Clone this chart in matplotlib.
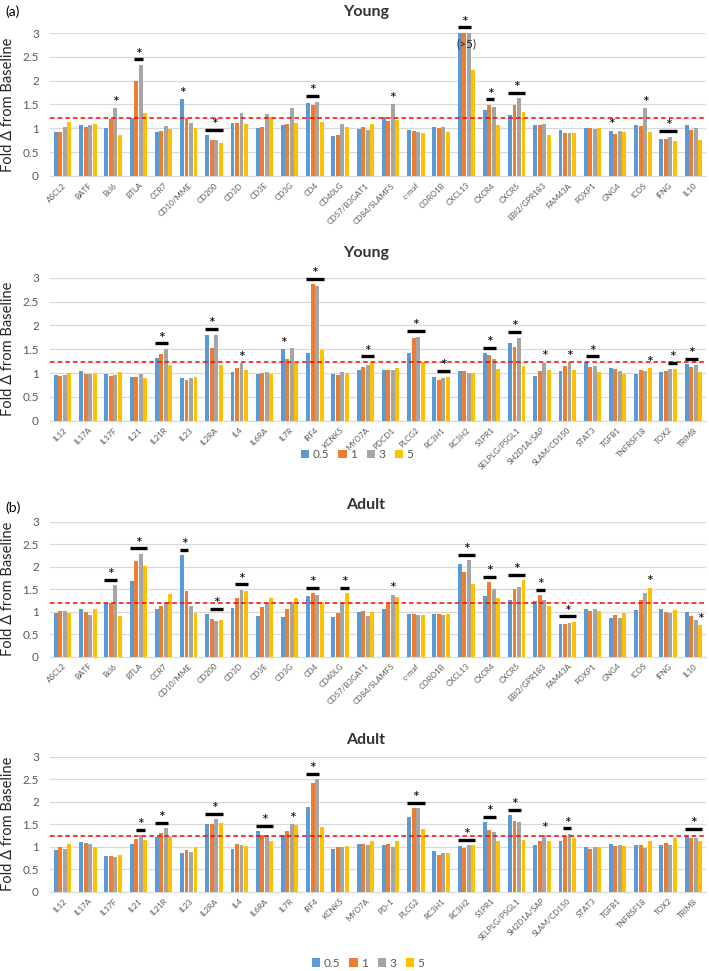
import matplotlib
matplotlib.use('Agg')
import matplotlib.pyplot as plt
from matplotlib.patches import Patch

plt.rcParams['font.family'] = ['Lato', 'DejaVu Sans']

series_labels = ['0.5', '1', '3', '5']
colors = ['#5B9BD5', '#ED7D31', '#A5A5A5', '#FFC000']

genes_a = ['ASCL2', 'BATF', 'Bcl6', 'BTLA', 'CCR7', 'CD10/MME', 'CD200', 'CD3D', 'CD3E', 'CD3G',
           'CD4', 'CD40LG', 'CD57/B3GAT1', 'CD84/SLAMF5', 'c-maf', 'CORO1B', 'CXCL13', 'CXCR4',
           'CXCR5', 'EBI2/GPR183', 'FAM43A', 'FOXP1', 'GNG4', 'ICOS', 'IFNG', 'IL10']
genes_b_young = ['IL12', 'IL17A', 'IL17F', 'IL21', 'IL21R', 'IL23', 'IL2RA', 'IL4', 'IL6RA', 'IL7R',
                 'IRF4', 'KCNK5', 'MYO7A', 'PDCD1', 'PLCG2', 'RC3H1', 'RC3H2', 'S1PR1',
                 'SELPLG/PSGL1', 'SH2D1A/SAP', 'SLAM/CD150', 'STAT3', 'TGFB1', 'TNFRSF18', 'TOX2', 'TRIM8']
genes_b_adult = ['IL12', 'IL17A', 'IL17F', 'IL21', 'IL21R', 'IL23', 'IL2RA', 'IL4', 'IL6RA', 'IL7R',
                 'IRF4', 'KCNK5', 'MYO7A', 'PD-1', 'PLCG2', 'RC3H1', 'RC3H2', 'S1PR1',
                 'SELPLG/PSGL1', 'SH2D1A/SAP', 'SLAM/CD150', 'STAT3', 'TGFB1', 'TNFRSF18', 'TOX2', 'TRIM8']

# Young, genes A
young_a_05 = [0.92, 1.06, 1.01, 1.22, 0.92, 1.61, 0.85, 1.11, 1.01, 1.07, 1.54, 0.83, 0.99, 1.23, 0.97, 1.02, 3.0, 1.38, 1.27, 1.06, 0.96, 1.01, 0.95, 1.06, 0.78, 1.08]
young_a_1 = [0.92, 1.03, 1.19, 1.99, 0.95, 1.22, 0.76, 1.12, 1.02, 1.09, 1.48, 0.85, 1.02, 1.15, 0.95, 1.01, 3.0, 1.49, 1.48, 1.07, 0.91, 1.01, 0.88, 1.04, 0.78, 0.97]
young_a_3 = [1.03, 1.07, 1.42, 2.33, 1.04, 1.11, 0.75, 1.33, 1.30, 1.43, 1.56, 1.09, 0.97, 1.51, 0.92, 1.02, 3.0, 1.45, 1.63, 1.09, 0.91, 0.98, 0.95, 1.42, 0.82, 1.01]
young_a_5 = [1.14, 1.09, 0.86, 1.32, 0.98, 1.00, 0.69, 1.09, 1.23, 1.11, 1.14, 1.03, 1.09, 1.18, 0.91, 0.92, 2.23, 1.07, 1.35, 0.86, 0.90, 1.01, 0.92, 0.92, 0.74, 0.76]

# Young, genes B
young_b_05 = [0.96, 1.05, 0.97, 0.91, 1.31, 0.89, 1.80, 1.02, 0.97, 1.50, 1.41, 0.99, 1.06, 1.06, 1.42, 0.92, 1.04, 1.41, 1.63, 0.94, 1.05, 1.23, 1.10, 0.98, 1.02, 1.18]
young_b_1 = [0.94, 0.99, 0.93, 0.91, 1.39, 0.86, 1.52, 1.11, 1.00, 1.30, 2.86, 0.95, 1.13, 1.06, 1.73, 0.86, 1.04, 1.38, 1.55, 1.05, 1.15, 1.13, 1.08, 1.07, 1.04, 1.13]
young_b_3 = [0.96, 0.99, 0.95, 0.99, 1.50, 0.89, 1.79, 1.20, 1.03, 1.52, 2.83, 1.03, 1.17, 1.06, 1.76, 0.89, 1.01, 1.30, 1.74, 1.22, 1.23, 1.15, 1.04, 1.04, 1.08, 1.16]
young_b_5 = [1.00, 0.99, 1.03, 0.89, 1.16, 0.91, 1.16, 1.07, 0.99, 1.22, 1.49, 1.01, 1.23, 1.11, 1.23, 0.91, 1.01, 1.09, 1.15, 1.07, 1.07, 1.02, 0.99, 1.10, 1.09, 1.02]

# Adult, genes A
adult_a_05 = [0.97, 1.06, 1.19, 1.69, 1.05, 2.26, 0.95, 1.09, 0.90, 0.88, 1.35, 0.88, 1.00, 1.07, 0.95, 0.95, 2.05, 1.35, 1.26, 1.23, 0.73, 1.05, 0.87, 1.04, 1.06, 1.00]
adult_a_1 = [1.02, 1.00, 1.19, 2.13, 1.13, 1.45, 0.84, 1.31, 1.10, 1.05, 1.41, 0.97, 1.02, 1.18, 0.95, 0.95, 1.88, 1.66, 1.50, 1.37, 0.73, 1.02, 0.92, 1.26, 1.00, 0.90]
adult_a_3 = [1.02, 0.93, 1.59, 2.29, 1.21, 1.13, 0.80, 1.49, 1.19, 1.21, 1.38, 1.21, 0.90, 1.38, 0.93, 0.92, 2.15, 1.50, 1.55, 1.27, 0.75, 1.06, 0.87, 1.41, 0.97, 0.81]
adult_a_5 = [0.97, 1.06, 0.90, 2.01, 1.40, 0.97, 0.81, 1.45, 1.31, 1.31, 1.21, 1.41, 1.00, 1.33, 0.92, 0.95, 1.62, 1.31, 1.70, 1.13, 0.78, 1.02, 0.97, 1.53, 1.04, 0.70]

# Adult, genes B
adult_b_05 = [0.93, 1.10, 0.79, 1.05, 1.22, 0.86, 1.50, 0.96, 1.34, 1.25, 1.89, 0.96, 1.05, 1.03, 1.67, 0.90, 1.01, 1.55, 1.70, 1.04, 1.13, 0.99, 1.07, 1.03, 1.04, 1.27]
adult_b_1 = [0.99, 1.08, 0.79, 1.17, 1.30, 0.93, 1.50, 1.07, 1.27, 1.36, 2.41, 0.99, 1.07, 1.05, 1.86, 0.81, 0.98, 1.37, 1.58, 1.12, 1.23, 0.96, 1.01, 1.03, 1.08, 1.19]
adult_b_3 = [0.96, 1.05, 0.77, 1.25, 1.41, 0.89, 1.61, 1.04, 1.25, 1.50, 2.50, 0.99, 1.03, 0.99, 1.86, 0.86, 1.03, 1.32, 1.56, 1.27, 1.29, 0.99, 1.03, 0.98, 1.04, 1.19]
adult_b_5 = [1.07, 0.99, 0.81, 1.15, 1.22, 0.99, 1.53, 1.02, 1.13, 1.48, 1.43, 1.01, 1.12, 1.12, 1.39, 0.87, 1.03, 1.12, 1.15, 1.13, 1.20, 0.99, 1.01, 1.12, 1.19, 1.13]

# Threshold (red dashed line) per panel
thresholds = [1.22, 1.23, 1.19, 1.23]

# Significance marks: (gene index, first series, last series, has bar)
young_a_sig = [(2, 2, 2, False), (3, 1, 2, True), (5, 0, 0, False), (6, 0, 3, True), (10, 0, 2, True),
               (13, 2, 2, False), (16, 0, 2, True), (17, 0.7, 1.7, True), (18, 0, 3, True),
               (22, 0, 0, False), (23, 2, 2, False), (24, 0, 3, True)]
young_b_sig = [(4, 0, 2, True), (6, 0, 2, True), (7, 2, 2, False), (9, 0, 0, False), (10, 0, 3, True),
               (12, 1, 3, True), (14, 0, 3, True), (15, 1, 3, True), (17, 0, 2, True), (18, 0, 2, True),
               (19, 2, 2, False), (20, 2, 2, False), (21, 0.5, 2.5, True), (23, 3, 3, False),
               (24, 2, 3, True), (25, 0, 2, True)]
adult_a_sig = [(2, 0, 2, True), (3, 0, 3, True), (5, 0, 1, True), (6, 1, 3, True), (7, 1, 3, True),
               (10, 0, 2, True), (11, 2, 3, True), (13, 2, 2, False), (16, 0, 3, True), (17, 0, 2, True),
               (18, 0, 3, True), (19, 0.7, 1.7, True), (20, 0, 3, True), (23, 3, 3, False), (25, 3, 3, False)]
adult_b_sig = [(3, 1.5, 2.5, True), (4, 0, 2, True), (6, 0, 3, True), (8, 0, 3, True), (9, 2, 2, False),
               (10, 0, 2, True), (14, 0, 3, True), (16, 0, 3, True), (17, 0, 2, True), (18, 0, 2, True),
               (19, 2, 2, False), (20, 1, 2, True), (25, 0, 3, True)]

panels = [
    ('Young', '(a)', genes_a, [young_a_05, young_a_1, young_a_3, young_a_5], young_a_sig),
    ('Young', None, genes_b_young, [young_b_05, young_b_1, young_b_3, young_b_5], young_b_sig),
    ('Adult', '(b)', genes_a, [adult_a_05, adult_a_1, adult_a_3, adult_a_5], adult_a_sig),
    ('Adult', None, genes_b_adult, [adult_b_05, adult_b_1, adult_b_3, adult_b_5], adult_b_sig),
]

W, H = 709, 971
fig = plt.figure(figsize=(W / 100, H / 100), dpi=100)

boxes = [(33, 176), (277.7, 420.7), (521.7, 656.7), (756.7, 891.7)]
title_y = [12, 253, 505, 740]
letter_y = [12, None, 508, None]
legend_pos = [(357, 455), (368, 963)]

left_px, right_px = 50, 706
slot = 0.178
bw = 0.155

for pi, (title, letter, genes, series, sigs) in enumerate(panels):
    top, bot = boxes[pi]
    ax = fig.add_axes([left_px / W, 1 - bot / H, (right_px - left_px) / W, (bot - top) / H])
    n = len(genes)
    xs = list(range(n))
    for si, vals in enumerate(series):
        off = (si - 1.5) * slot
        ax.bar([x + off for x in xs], vals, width=bw, color=colors[si], zorder=3)
    ax.set_xlim(-0.5, n - 0.5)
    ax.set_ylim(0, 3)
    ax.set_yticks([0, 0.5, 1, 1.5, 2, 2.5, 3])
    ax.set_yticklabels(['0', '0.5', '1', '1.5', '2', '2.5', '3'])
    ax.yaxis.grid(True, color='#D9D9D9', lw=0.9)
    ax.set_axisbelow(True)
    for s in ['top', 'right', 'left']:
        ax.spines[s].set_visible(False)
    ax.spines['bottom'].set_color('#D9D9D9')
    ax.tick_params(axis='both', length=0)
    ax.tick_params(axis='y', labelsize=8.5, labelcolor='#595959', pad=8)
    ax.set_xticks(xs)
    ax.set_xticklabels(genes, rotation=45, ha='right', rotation_mode='anchor',
                       fontsize=5.8, color='#595959')
    ax.tick_params(axis='x', pad=4)
    ax.axhline(thresholds[pi], color='#FF0000', ls=(0, (3, 2)), lw=1.1, zorder=4)
    ax.set_ylabel('Fold Δ from Baseline', fontsize=10.5, color='#262626', labelpad=5)

    for (gi, a, b, has_bar) in sigs:
        group_max = max(v[gi] for v in series)
        xa = gi + (a - 1.5) * slot - bw / 2
        xb = gi + (b - 1.5) * slot + bw / 2
        xc = (xa + xb) / 2
        if has_bar:
            ly = group_max + 0.12
            ax.plot([xa, xb], [ly, ly], color='black', lw=2.4, solid_capstyle='butt',
                    clip_on=False, zorder=5)
            ax.annotate('*', (xc, ly), xytext=(0, 0.5), textcoords='offset points',
                        ha='center', va='baseline', fontsize=11.5, annotation_clip=False, zorder=6)
        else:
            ly = series[int(a)][gi]
            ax.annotate('*', (xc, ly), xytext=(0, 1.0), textcoords='offset points',
                        ha='center', va='baseline', fontsize=11.5, annotation_clip=False, zorder=6)

    if pi == 0:
        ax.text(16, 2.77, '(>5)', ha='center', va='center', fontsize=8.5, color='#262626', zorder=7)

    fig.text(366 / W, 1 - title_y[pi] / H, title, ha='center', va='center',
             fontsize=11.5, fontweight='bold', color='#333333')
    if letter:
        fig.text(5 / W, 1 - letter_y[pi] / H, letter, ha='left', va='center', fontsize=10, color='black')

handles = [Patch(facecolor=c, edgecolor='none') for c in colors]
for (lx, ly) in legend_pos:
    fig.legend(handles, series_labels, loc='center', bbox_to_anchor=(lx / W, 1 - ly / H),
               ncol=4, frameon=False, fontsize=8.5, handlelength=0.7, handleheight=0.7,
               handletextpad=0.3, columnspacing=0.8, labelcolor='#595959')

fig.savefig('out.png', dpi=100)
